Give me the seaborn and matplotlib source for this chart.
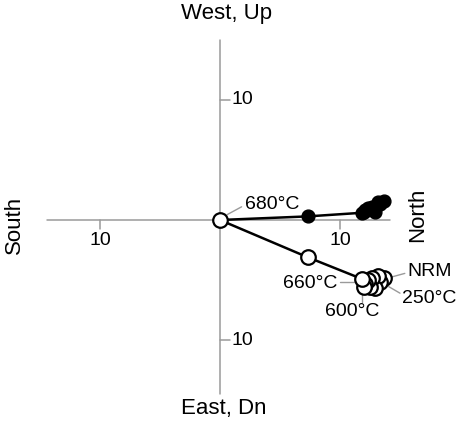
import numpy as np
import pandas as pd
import matplotlib
matplotlib.use("Agg")
import matplotlib.pyplot as plt
import seaborn as sns

# demagnetisation steps (NRM -> 680 C), components in arbitrary units
steps = ["NRM", "250", "300", "350", "400", "450", "500", "550", "600", "660", "670", "680"]
north = [13.7, 13.3, 13.2, 12.9, 12.7, 12.5, 12.3, 12.1, 12.0, 11.8, 7.3, 0.0]
west = [1.6, 1.3, 1.5, 0.7, 1.1, 0.9, 1.0, 0.8, 0.7, 0.6, 0.3, 0.0]
up = [-4.8, -5.2, -4.7, -5.7, -4.8, -5.6, -5.0, -5.3, -5.6, -4.9, -3.1, 0.0]

axis_len = {"south": 14.4, "north": 14.2, "up": 15.0, "down": 14.5}
tick_val = 10

df = pd.DataFrame({"step": steps, "north": north, "west": west, "up": up})

sns.set_style("white")
plt.rcParams["font.family"] = ["Liberation Sans", "DejaVu Sans"]
plt.rcParams["text.color"] = "black"

fig = plt.figure(figsize=(4.59, 4.23), dpi=100)
ax = fig.add_axes([0, 0, 1, 1])
ax.set_xlim(-220 / 12, 239 / 12)
ax.set_ylim(-203 / 12, 220 / 12)
ax.axis("off")

gray = "#9a9a9a"
ax.plot([-axis_len["south"], axis_len["north"]], [0, 0], color=gray, lw=1.1, zorder=1)
ax.plot([0, 0], [-axis_len["down"], axis_len["up"]], color=gray, lw=1.1, zorder=1)
# ticks
ax.plot([-tick_val, -tick_val], [0, -0.75], color=gray, lw=1.1)
ax.plot([tick_val, tick_val], [0, -0.75], color=gray, lw=1.1)
ax.plot([0, 0.85], [tick_val, tick_val], color=gray, lw=1.1)
ax.plot([0, 0.85], [-tick_val, -tick_val], color=gray, lw=1.1)
fs_tick = 14
ax.text(-tick_val, -1.0, "10", ha="center", va="top", fontsize=fs_tick)
ax.text(tick_val, -1.0, "10", ha="center", va="top", fontsize=fs_tick)
ax.text(0.95, tick_val, "10", ha="left", va="center", fontsize=fs_tick)
ax.text(0.95, -tick_val, "10", ha="left", va="center", fontsize=fs_tick)

fs_lab = 16
ax.text(0.55, 17.2, "West, Up", ha="center", va="center", fontsize=fs_lab)
ax.text(0.3, -15.7, "East, Dn", ha="center", va="center", fontsize=fs_lab)
ax.text(-17.1, -0.4, "South", ha="center", va="center", rotation=90, fontsize=fs_lab)
ax.text(16.5, 0.4, "North", ha="center", va="center", rotation=90, fontsize=fs_lab)

# horizontal projection (filled) and vertical projection (open)
ax.plot(df["north"], df["west"], color="black", lw=1.8, zorder=2)
ax.plot(df["north"], df["up"], color="black", lw=1.8, zorder=2)
sns.scatterplot(data=df, x="north", y="west", ax=ax, color="black", s=85,
                edgecolor="black", linewidth=1, zorder=3, legend=False)
sns.scatterplot(data=df, x="north", y="up", ax=ax, color="white", s=110,
                edgecolor="black", linewidth=1.6, zorder=4, legend=False)

# step labels with leader lines
fs_ann = 14
def label(step, xy_text, ha, va, lead_from, lead_to):
    ax.plot([lead_from[0], lead_to[0]], [lead_from[1], lead_to[1]], color=gray, lw=1, zorder=1)
    ax.text(xy_text[0], xy_text[1], step, ha=ha, va=va, fontsize=fs_ann)

label("680°C", (2.1, 1.3), "left", "center", (0.6, 0.45), (1.8, 1.1))
label("660°C", (9.8, -5.25), "right", "center", (10.0, -5.15), (11.6, -5.15))
label("600°C", (11.0, -7.6), "center", "center", (11.8, -5.9), (11.8, -6.8))
label("NRM", (15.6, -4.3), "left", "center", (14.3, -4.75), (15.4, -4.45))
label("250°C", (15.2, -6.5), "left", "center", (13.8, -5.4), (15.0, -6.1))

fig.savefig("out.png", dpi=100)
